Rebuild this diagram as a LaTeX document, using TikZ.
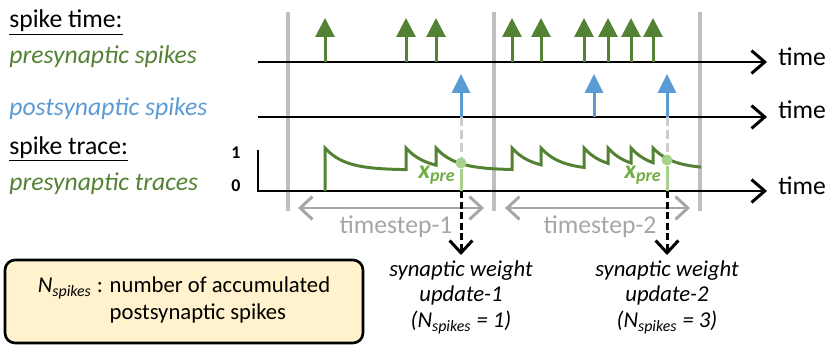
\documentclass[tikz,border=0pt]{standalone}
\usepackage{fontspec}
\setmainfont{Carlito}
\usepackage{xcolor}
\usetikzlibrary{arrows.meta, positioning, calc}

\definecolor{preGreen}{RGB}{84,130,53}
\definecolor{xGreen}{RGB}{112,173,71}
\definecolor{dotGreen}{RGB}{169,209,142}
\definecolor{postBlue}{RGB}{91,155,213}
\definecolor{wallGrey}{RGB}{191,191,191}
\definecolor{stepGrey}{RGB}{166,166,166}
\definecolor{dashGrey}{RGB}{205,205,205}
\definecolor{noteFill}{RGB}{255,242,204}

\begin{document}
\begin{tikzpicture}[
    x=0.02cm,
    y=-0.02cm,
    every node/.style={font=\fontsize{14.6}{17.5}\selectfont, inner sep=0pt},
    timeaxis/.style={
        draw=black,
        line width=1.7pt,
        -{Straight Barb[length=7.5pt, width=13pt]}
    },
    wall/.style={
        draw=wallGrey,
        line width=2.3pt
    },
    prespike/.style={
        draw=preGreen,
        line width=1.7pt,
        -{Triangle[length=0.38cm, width=0.38cm]}
    },
    postspike/.style={
        draw=postBlue,
        line width=1.7pt,
        -{Triangle[length=0.38cm, width=0.36cm]}
    },
    trace/.style={
        draw=preGreen,
        line width=1.7pt
    },
    span/.style={
        draw=stepGrey,
        line width=1.7pt,
        {Straight Barb[length=7pt, width=13pt]}-{Straight Barb[length=7pt, width=13pt]}
    },
    update/.style={
        draw=black,
        line width=1.7pt,
        dash pattern=on 4pt off 2pt,
        -{Straight Barb[length=7pt, width=13pt]}
    },
    updatetext/.style={
        font=\fontsize{12.9}{14.5}\selectfont\itshape,
        align=center,
        inner sep=3pt
    },
    note/.style={
        draw=black,
        line width=1.5pt,
        rounded corners=0.2cm,
        fill=noteFill,
        align=left,
        font=\fontsize{12.9}{15.3}\selectfont
    }
]

\useasboundingbox (0,0) rectangle (830,355);

% ============================================================
% TIMESTEP BOUNDARIES
% ============================================================

\foreach \w in {288,494,700}
    \draw[wall] (\w,12) -- (\w,211);

% ============================================================
% TIME AXES
% ============================================================

\coordinate (preStart) at (258,62);
\coordinate (preEnd) at (767,62);
\coordinate (postStart) at (258,117);
\coordinate (postEnd) at (767,117);
\coordinate (traceTop) at (258,150);
\coordinate (traceStart) at (258,191);
\coordinate (traceEnd) at (767,191);

\draw[timeaxis] (preStart) -- (preEnd);
\draw[timeaxis] (postStart) -- (postEnd);
\draw[timeaxis] (traceTop) -- (traceStart) -- (traceEnd);

\node[anchor=base west] (time1) at (778,65) {time};
\node[anchor=base west] (time2) at (778,118) {time};
\node[anchor=base west] (time3) at (778,194) {time};

% ============================================================
% SPIKES
% ============================================================

\foreach \t in {325,406,436,512,541,584,608,631,653}
    \draw[prespike] (\t,62) -- (\t,18);

\foreach \t in {461,594,667}
    \draw[postspike] (\t,117) -- (\t,74);

% ============================================================
% PRESYNAPTIC TRACE
% ============================================================

\draw[trace] (325,191) -- (325,148)
    foreach \a/\b in {325/406,406/436,436/512,512/541,541/584,584/608,608/631,631/653} {
        -- plot[domain=\a:\b, samples=25] (\x,{170-22*exp(-(\x-\a)/20)}) -- (\b,148)
    }
    -- plot[domain=653:701, samples=25] (\x,{169-21*exp(-(\x-653)/20)});

\node[anchor=base, font=\fontsize{10.2}{12}\selectfont\bfseries] (one) at (236,158) {1};
\node[anchor=base, font=\fontsize{10.2}{12}\selectfont\bfseries] (zero) at (236,191) {0};

% ============================================================
% READ-OUT OF THE TRACE
% ============================================================

\coordinate (post1) at (461,117);
\coordinate (hit1) at (461,191);
\coordinate (post2) at (667,117);
\coordinate (hit2) at (667,191);

\node[circle, fill=dotGreen, minimum size=0.22cm] (dot1) at (461,163) {};
\node[circle, fill=dotGreen, minimum size=0.22cm] (dot2) at (667,160) {};

\draw[dashGrey, line width=1.7pt, dash pattern=on 5pt off 2.5pt] (post1) -- (dot1);
\draw[dashGrey, line width=1.7pt, dash pattern=on 5pt off 2.5pt] (post2) -- (dot2);
\draw[dotGreen, line width=1.7pt] (dot1) -- (hit1);
\draw[dotGreen, line width=1.7pt] (dot2) -- (hit2);

\node[
    anchor=base east,
    text=xGreen,
    font=\fontsize{14.6}{17.5}\selectfont\bfseries\itshape
] (xpre1) at (456,178)
{x\textsubscript{pre}};

\node[
    anchor=base east,
    text=xGreen,
    font=\fontsize{14.6}{17.5}\selectfont\bfseries\itshape
] (xpre2) at (662,178)
{x\textsubscript{pre}};

% ============================================================
% TIMESTEPS
% ============================================================

\coordinate (step1a) at (298,208);
\coordinate (step1b) at (484,208);
\coordinate (step2a) at (505,208);
\coordinate (step2b) at (690,208);

\draw[span] (step1a) -- (step1b);
\draw[span] (step2a) -- (step2b);

\node[anchor=base, text=stepGrey] (ts1) at (396,233) {timestep-1};
\node[anchor=base, text=stepGrey] (ts2) at (600,233) {timestep-2};

% ============================================================
% WEIGHT UPDATES
% ============================================================

\node[
    updatetext,
    anchor=north
] (upd1) at (461,255)
{synaptic weight\\update-1\\(N\textsubscript{spikes} = 1)};

\node[
    updatetext,
    anchor=north
] (upd2) at (667,255)
{synaptic weight\\update-2\\(N\textsubscript{spikes} = 3)};

\draw[update] (hit1) -- (upd1.north);
\draw[update] (hit2) -- (upd2.north);

% ============================================================
% ROW LABELS
% ============================================================

\node[anchor=base west] (spiketime) at (9,28) {\underline{spike time:}};
\node[anchor=base west, text=preGreen, font=\fontsize{14.6}{17.5}\selectfont\itshape] (prelabel) at (9,63) {presynaptic spikes};
\node[anchor=base west, text=postBlue, font=\fontsize{14.6}{17.5}\selectfont\itshape] (postlabel) at (9,115) {postsynaptic spikes};
\node[anchor=base west] (spiketrace) at (9,154) {\underline{spike trace:}};
\node[anchor=base west, text=preGreen, font=\fontsize{14.6}{17.5}\selectfont\itshape] (tracelabel) at (9,190) {presynaptic traces};

% ============================================================
% LEGEND
% ============================================================

\node[
    note,
    minimum width=7.16cm,
    minimum height=1.66cm
] (legend) at (184,301.5)
{\textit{N\textsubscript{spikes}} : number of accumulated\\
\phantom{\textit{N\textsubscript{spikes}} : }postsynaptic spikes};

\end{tikzpicture}
\end{document}
